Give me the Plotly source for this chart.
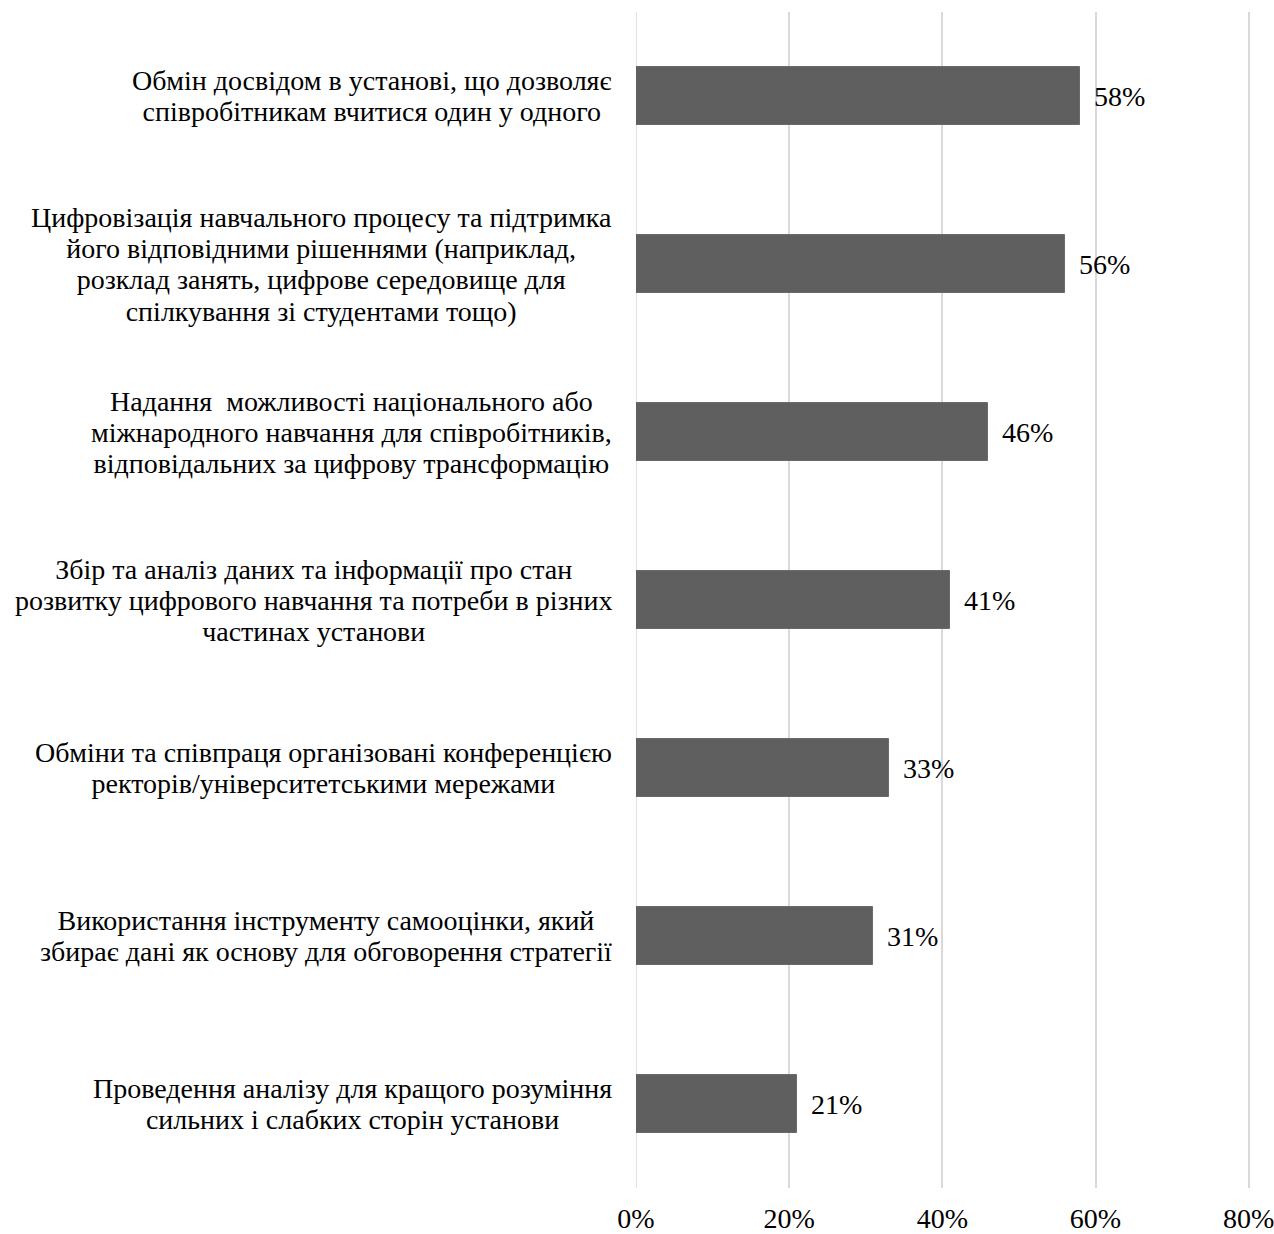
import plotly.graph_objects as go

# Survey results: share of institutions naming each measure
categories = [
    ["Обмін досвідом в установі, що дозволяє",
     "співробітникам вчитися один у одного"],
    ["Цифровізація навчального процесу та підтримка",
     "його відповідними рішеннями (наприклад,",
     "розклад занять, цифрове середовище для",
     "спілкування зі студентами тощо)"],
    ["Надання\u00a0 можливості національного або",
     "міжнародного навчання для співробітників,",
     "відповідальних за цифрову трансформацію"],
    ["Збір та аналіз даних та інформації про стан",
     "розвитку цифрового навчання та потреби в різних",
     "частинах установи"],
    ["Обміни та співпраця організовані конференцією",
     "ректорів/університетськими мережами"],
    ["Використання інструменту самооцінки, який",
     "збирає дані як основу для обговорення стратегії"],
    ["Проведення аналізу для кращого розуміння",
     "сильних і слабких сторін установи"],
]
shares = [0.58, 0.56, 0.46, 0.41, 0.33, 0.31, 0.21]
tick_values = [0, 0.2, 0.4, 0.6, 0.8]
tick_labels = ["0%", "20%", "40%", "60%", "80%"]

FONT = "Liberation Serif"
BAR_COLOR = "#5f5f5f"
GRID_COLOR = "#d9d9d9"

fig = go.Figure(
    go.Bar(
        x=shares,
        y=list(range(len(categories))),
        orientation="h",
        width=0.345,
        marker=dict(color=BAR_COLOR, line=dict(color="#6a6a6a", width=1)),
        hoverinfo="skip",
    )
)

annotations = []
# category labels: the annotation font size sets the (tighter) line pitch,
# the glyphs themselves are drawn a little larger through a span style
for i, lines in enumerate(categories):
    text = "<br>".join(f"<span style='font-size:28px'>{ln}</span>" for ln in lines)
    annotations.append(dict(
        x=0, y=i, xref="paper", yref="y",
        text=text, showarrow=False,
        xanchor="right", yanchor="middle", align="center",
        xshift=-22,
        font=dict(family=FONT, size=24, color="black"),
    ))
# value labels at the end of each bar
for i, v in enumerate(shares):
    annotations.append(dict(
        x=v, y=i, xref="x", yref="y",
        text=f"{round(v * 100)}%", showarrow=False,
        xanchor="left", yanchor="middle", xshift=12,
        font=dict(family=FONT, size=28, color="black"),
    ))

fig.update_layout(
    width=1274, height=1234,
    margin=dict(l=636, r=23, t=12, b=46, autoexpand=False),
    paper_bgcolor="white", plot_bgcolor="white",
    showlegend=False,
    bargap=0,
    annotations=annotations,
    font=dict(family=FONT, size=28, color="black"),
)
fig.update_xaxes(
    range=[0, 0.803],
    tickvals=tick_values, ticktext=tick_labels,
    showgrid=True, gridcolor=GRID_COLOR, gridwidth=1.5,
    zeroline=False, showline=False,
    ticks="outside", ticklen=0, ticklabelstandoff=5,
    ticklabeloverflow="allow",
    tickfont=dict(family=FONT, size=28, color="black"),
    automargin=False,
    fixedrange=True,
)
fig.update_yaxes(
    range=[len(categories) - 0.5, -0.5],
    showticklabels=False, showgrid=False, zeroline=False, showline=False,
    automargin=False,
    fixedrange=True,
)
# zero line drawn as a grid line in the same grey
fig.add_vline(x=0, line=dict(color=GRID_COLOR, width=1.5), layer="below")

fig.write_html("out.html", config={"displayModeBar": False})
